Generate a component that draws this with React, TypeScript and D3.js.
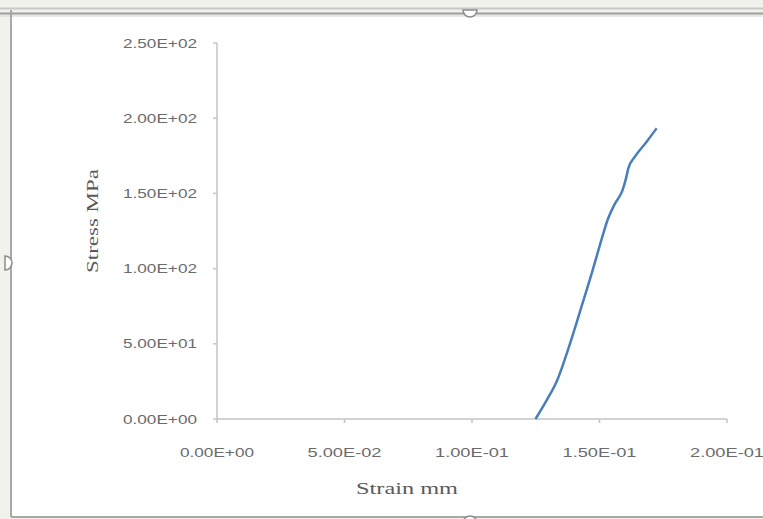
import React, { useRef, useEffect } from 'react';
import * as d3 from 'd3';

const strain = [0.1249, 0.1293, 0.1332, 0.1384, 0.143, 0.1475, 0.1509, 0.1533, 0.156, 0.159, 0.1604, 0.1613, 0.1639, 0.1685, 0.1724];
const stress = [0, 12.6, 25, 50, 75, 100, 120, 133, 143, 152, 160, 166.7, 174.4, 184.4, 193.3];
const xTicks = [0, 0.05, 0.1, 0.15, 0.2];
const xTickLabels = ['0.00E+00', '5.00E-02', '1.00E-01', '1.50E-01', '2.00E-01'];
const yTicks = [0, 50, 100, 150, 200, 250];
const yTickLabels = ['0.00E+00', '5.00E+01', '1.00E+02', '1.50E+02', '2.00E+02', '2.50E+02'];

const W = 763;
const H = 519;

const App = () => {
  const ref = useRef<SVGSVGElement>(null);

  useEffect(() => {
    const svg = d3.select(ref.current);
    svg.selectAll('*').remove();

    // page / frame
    svg.append('rect').attr('width', W).attr('height', H).attr('fill', '#f2f2ed');
    svg.append('rect')
      .attr('x', 11).attr('y', 16).attr('width', W - 11).attr('height', 501)
      .attr('fill', '#ffffff');
    svg.append('line').attr('x1', 0).attr('x2', W).attr('y1', 8.5).attr('y2', 8.5)
      .attr('stroke', '#c8c8c8').attr('stroke-width', 2);
    svg.append('line').attr('x1', 0).attr('x2', W).attr('y1', 13.5).attr('y2', 13.5)
      .attr('stroke', '#9c9c9c').attr('stroke-width', 2);
    svg.append('line').attr('x1', 0).attr('x2', W).attr('y1', 16).attr('y2', 16)
      .attr('stroke', '#d6d6d6').attr('stroke-width', 1);
    svg.append('line').attr('x1', 11).attr('x2', 11).attr('y1', 10).attr('y2', 517)
      .attr('stroke', '#a8a8a8').attr('stroke-width', 2);
    svg.append('line').attr('x1', 11).attr('x2', W).attr('y1', 517).attr('y2', 517)
      .attr('stroke', '#a8a8a8').attr('stroke-width', 2);
    // handles
    const handle = d3.arc()({ innerRadius: 0, outerRadius: 7, startAngle: Math.PI / 2, endAngle: Math.PI * 1.5 } as any);
    svg.append('path').attr('d', handle as string).attr('transform', 'translate(470,10)')
      .attr('fill', '#ffffff').attr('stroke', '#8c8c8c').attr('stroke-width', 1.5);
    svg.append('path').attr('d', handle as string).attr('transform', 'translate(470,523) rotate(180)')
      .attr('fill', '#ffffff').attr('stroke', '#8c8c8c').attr('stroke-width', 1.5);
    svg.append('path').attr('d', handle as string).attr('transform', 'translate(5,263) rotate(-90)')
      .attr('fill', '#ffffff').attr('stroke', '#8c8c8c').attr('stroke-width', 1.5);

    const x = d3.scaleLinear().domain([0, 0.2]).range([217, 727]);
    const y = d3.scaleLinear().domain([0, 250]).range([419, 43]);

    const axisColor = '#c4c4c4';
    const textColor = '#6b6b6b';

    // y axis
    svg.append('line').attr('x1', x(0)).attr('x2', x(0)).attr('y1', y(250)).attr('y2', y(0))
      .attr('stroke', axisColor).attr('stroke-width', 1.5);
    yTicks.forEach((t, i) => {
      svg.append('line').attr('x1', x(0) - 4).attr('x2', x(0)).attr('y1', y(t)).attr('y2', y(t))
        .attr('stroke', axisColor).attr('stroke-width', 1.5);
      svg.append('text')
        .attr('x', 197).attr('y', y(t)).attr('dy', '0.35em')
        .attr('text-anchor', 'end')
        .attr('font-family', 'Liberation Sans, Arial, sans-serif')
        .attr('font-size', 13).attr('fill', textColor)
        .attr('textLength', 74).attr('lengthAdjust', 'spacingAndGlyphs')
        .text(yTickLabels[i]);
    });

    // x axis
    svg.append('line').attr('x1', x(0)).attr('x2', x(0.2)).attr('y1', y(0)).attr('y2', y(0))
      .attr('stroke', axisColor).attr('stroke-width', 1.5);
    xTicks.forEach((t, i) => {
      svg.append('line').attr('x1', x(t)).attr('x2', x(t)).attr('y1', y(0)).attr('y2', y(0) + 4)
        .attr('stroke', axisColor).attr('stroke-width', 1.5);
      svg.append('text')
        .attr('x', x(t)).attr('y', 452).attr('dy', '0.35em')
        .attr('text-anchor', 'middle')
        .attr('font-family', 'Liberation Sans, Arial, sans-serif')
        .attr('font-size', 13).attr('fill', textColor)
        .attr('textLength', 74).attr('lengthAdjust', 'spacingAndGlyphs')
        .text(xTickLabels[i]);
    });

    // titles
    svg.append('text')
      .attr('x', 407).attr('y', 488).attr('dy', '0.35em')
      .attr('text-anchor', 'middle')
      .attr('font-family', 'Liberation Serif, Times New Roman, serif')
      .attr('font-size', 17).attr('fill', '#5a5a5a')
      .attr('textLength', 102).attr('lengthAdjust', 'spacingAndGlyphs')
      .text('Strain mm');
    svg.append('text')
      .attr('transform', 'translate(92,221) rotate(-90)')
      .attr('dy', '0.35em')
      .attr('text-anchor', 'middle')
      .attr('font-family', 'Liberation Serif, Times New Roman, serif')
      .attr('font-size', 17).attr('fill', '#5a5a5a')
      .attr('textLength', 104).attr('lengthAdjust', 'spacingAndGlyphs')
      .text('Stress MPa');

    // curve
    const pts: [number, number][] = strain.map((s, i) => [s, stress[i]]);
    const line = d3.line<[number, number]>()
      .x(d => x(d[0]))
      .y(d => y(d[1]))
      .curve(d3.curveMonotoneX);
    svg.append('path')
      .datum(pts)
      .attr('d', line)
      .attr('fill', 'none')
      .attr('stroke', '#4a7ebb')
      .attr('stroke-width', 2.5)
      .attr('stroke-linejoin', 'round');
  }, []);

  return (
    <div style={{ position: 'absolute', left: 0, top: 0 }}>
      <svg ref={ref} width={W} height={H} style={{ display: 'block' }}></svg>
    </div>
  );
};

export default App;
